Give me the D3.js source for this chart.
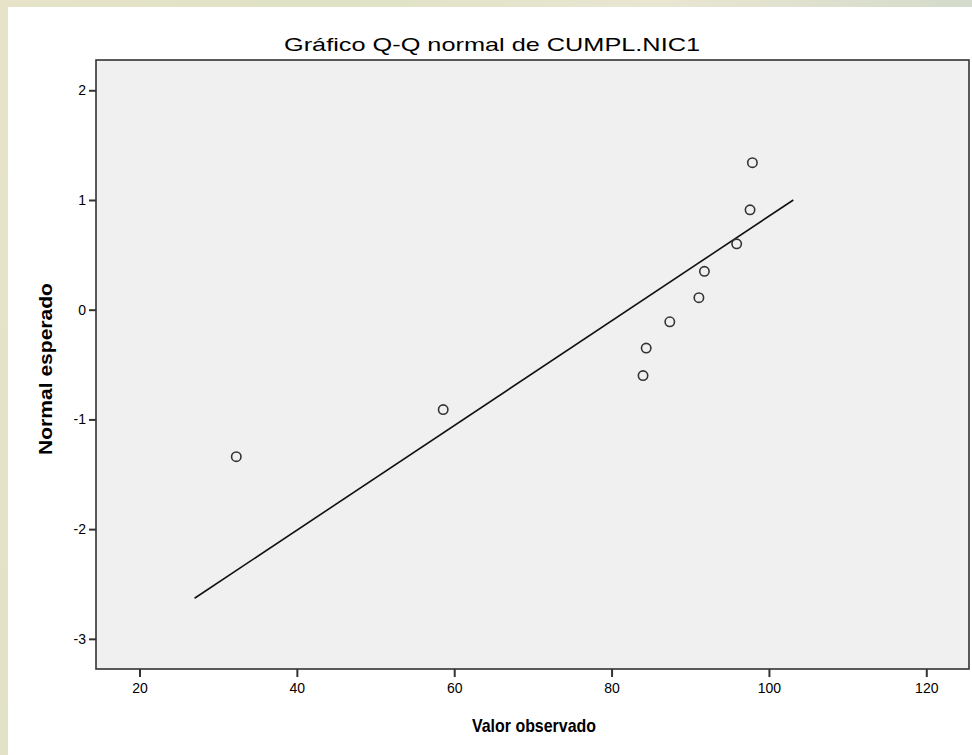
<!DOCTYPE html>
<html>
<head>
<meta charset="utf-8">
<script src="https://cdn.jsdelivr.net/npm/d3@7"></script>
<style>
  html, body { margin: 0; padding: 0; }
  body {
    width: 972px; height: 755px; overflow: hidden;
    background: linear-gradient(100deg, #e6e3c9 0%, #dfe2c4 30%, #e9e6d2 60%, #d6dccb 85%, #cfd6d4 100%);
  }
  .container { position: absolute; left: 8px; top: 7px; }
  text { font-family: Arial, "Liberation Sans", sans-serif; fill: #000; }
</style>
</head>
<body>
<div class="container"></div>
<script>
var w = 964;
var h = 748;

// observed values (x) and expected normal (y)
var observed = [32.3, 58.6, 84.0, 84.4, 87.4, 91.1, 91.8, 95.9, 97.6, 97.9];
var expected = [-1.34, -0.91, -0.60, -0.35, -0.11, 0.11, 0.35, 0.60, 0.91, 1.34];
// reference line endpoints
var lineX = [27.0, 103.1];
var lineY = [-2.63, 1.0];
var xTicks = [20, 40, 60, 80, 100, 120];
var yTicks = [2, 1, 0, -1, -2, -3];

var ox = 8, oy = 7; // offset of white panel
var pLeft = 96 - ox, pTop = 60 - oy, pRight = 969 - ox, pBottom = 669 - oy;

var canvas = d3
  .select(".container")
  .append("svg")
  .attr("width", w)
  .attr("height", h);

canvas.append("rect")
  .attr("width", w)
  .attr("height", h)
  .attr("fill", "#ffffff");

var xScale = d3.scaleLinear().domain([14.47, 125.43]).range([pLeft, pRight]);
var yScale = d3.scaleLinear().domain([-3.275, 2.276]).range([pBottom, pTop]);

// plot area
canvas.append("rect")
  .attr("x", pLeft)
  .attr("y", pTop)
  .attr("width", pRight - pLeft)
  .attr("height", pBottom - pTop)
  .attr("fill", "#f0f0f0")
  .attr("stroke", "#333")
  .attr("stroke-width", 1.6);

// title
canvas.append("text")
  .attr("x", 492 - ox)
  .attr("y", 51 - oy)
  .attr("text-anchor", "middle")
  .attr("font-size", 19)
  .attr("textLength", 416)
  .attr("lengthAdjust", "spacingAndGlyphs")
  .text("Gráfico Q-Q normal de CUMPL.NIC1");

// axes
var xAxis = canvas.append("g")
  .attr("transform", "translate(0," + pBottom + ")")
  .call(d3.axisBottom(xScale).tickValues(xTicks).tickSize(8).tickPadding(6).tickSizeOuter(0)
    .tickFormat(d => String(d)));
var yAxis = canvas.append("g")
  .attr("transform", "translate(" + pLeft + ",0)")
  .call(d3.axisLeft(yScale).tickValues(yTicks).tickSize(7).tickPadding(3).tickSizeOuter(0)
    .tickFormat(d => String(d)));

[xAxis, yAxis].forEach(function(a) {
  a.select(".domain").remove();
  a.selectAll(".tick line").attr("stroke", "#333").attr("stroke-width", 2);
  a.selectAll(".tick text")
    .attr("font-size", 14)
    .attr("font-family", "Arial, 'Liberation Sans', sans-serif")
    .attr("fill", "#111");
});

// reference line
var line = d3.line()
  .x(d => xScale(d[0]))
  .y(d => yScale(d[1]));
canvas.append("path")
  .datum(d3.zip(lineX, lineY))
  .attr("d", line)
  .attr("fill", "none")
  .attr("stroke", "#111")
  .attr("stroke-width", 1.6);

// points
canvas.append("g")
  .selectAll("circle")
  .data(d3.zip(observed, expected))
  .enter()
  .append("circle")
  .attr("cx", d => xScale(d[0]))
  .attr("cy", d => yScale(d[1]))
  .attr("r", 4.7)
  .attr("fill", "none")
  .attr("stroke", "#333")
  .attr("stroke-width", 1.6);

// axis titles
canvas.append("text")
  .attr("x", 534 - ox)
  .attr("y", 732 - oy)
  .attr("text-anchor", "middle")
  .attr("font-size", 19)
  .attr("font-weight", "bold")
  .attr("textLength", 124)
  .attr("lengthAdjust", "spacingAndGlyphs")
  .text("Valor observado");

canvas.append("text")
  .attr("transform", "translate(" + (52 - ox) + "," + (369 - oy) + ") rotate(-90)")
  .attr("text-anchor", "middle")
  .attr("font-size", 19)
  .attr("font-weight", "bold")
  .attr("textLength", 172)
  .attr("lengthAdjust", "spacingAndGlyphs")
  .text("Normal esperado");
</script>
</body>
</html>
